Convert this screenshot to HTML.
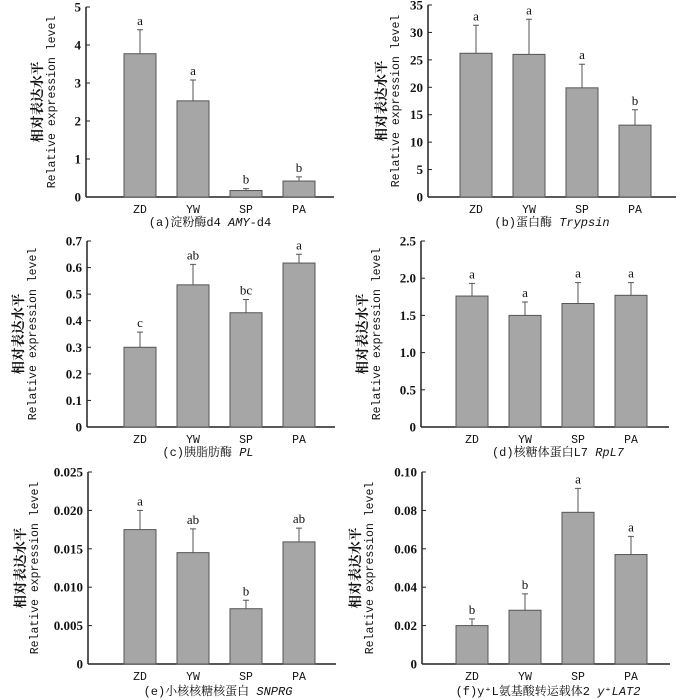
<!DOCTYPE html>
<html><head><meta charset="utf-8"><style>
body{margin:0;background:#fff}
svg{display:block}
text{fill:#111}
.tick{font-family:"Liberation Serif",serif;font-size:13px;font-weight:bold}
.cat{font-family:"Liberation Mono",monospace;font-size:11.5px}
.sig{font-family:"Liberation Serif",serif;font-size:13px}
.cap{font-family:"Liberation Mono","Noto Serif CJK SC",monospace;font-size:12px}
.yt{font-family:"Liberation Mono","Noto Serif CJK SC",monospace;font-size:11.5px}
.ytc{font-family:"Noto Serif CJK SC",serif;font-size:13.5px;font-weight:bold}
</style></head><body>
<svg id="chart" width="700" height="700" viewBox="0 0 700 700"></svg>
<script>
const categories=["ZD","YW","SP","PA"];
const valsA=[3.77,2.53,0.17,0.42]; const errA=[4.4,3.08,0.22,0.53]; const sigA=["a","a","b","b"];
const ticksA=["0","1","2","3","4","5"];
const valsB=[26.2,26.0,19.9,13.1]; const errB=[31.3,32.4,24.2,15.9]; const sigB=["a","a","a","b"];
const ticksB=["0","5","10","15","20","25","30","35"];
const valsC=[0.30,0.535,0.43,0.617]; const errC=[0.357,0.612,0.48,0.65]; const sigC=["c","ab","bc","a"];
const ticksC=["0","0.1","0.2","0.3","0.4","0.5","0.6","0.7"];
const valsD=[1.76,1.50,1.66,1.77]; const errD=[1.93,1.68,1.94,1.94]; const sigD=["a","a","a","a"];
const ticksD=["0","0.5","1.0","1.5","2.0","2.5"];
const valsE=[0.0175,0.0145,0.0072,0.0159]; const errE=[0.0200,0.0176,0.0083,0.0177]; const sigE=["a","ab","b","ab"];
const ticksE=["0","0.005","0.010","0.015","0.020","0.025"];
const valsF=[0.020,0.028,0.079,0.057]; const errF=[0.0235,0.0365,0.0915,0.0665]; const sigF=["b","b","a","a"];
const ticksF=["0","0.02","0.04","0.06","0.08","0.10"];

const NS="http://www.w3.org/2000/svg";
const svg=document.getElementById('chart');
function mk(tag,attrs,parent,txt){const e=document.createElementNS(NS,tag);for(const k in attrs)e.setAttribute(k,attrs[k]);if(txt!==undefined)e.textContent=txt;parent.appendChild(e);return e;}

const panels=[
 {id:"a",ax:86,top:7,bot:197,c0:140,vals:valsA,err:errA,sig:sigA,ticks:ticksA,max:5,yt:42,cap:["(a)淀粉酶d4 ","AMY","-d4"],capY:226,capX:210},
 {id:"b",ax:428,top:5,bot:197,c0:476,vals:valsB,err:errB,sig:sigB,ticks:ticksB,max:35,yt:386,cap:["(b)蛋白酶 ","Trypsin",""],capY:226,capX:552},
 {id:"c",ax:87,top:241,bot:427,c0:140,vals:valsC,err:errC,sig:sigC,ticks:ticksC,max:0.7,yt:23,cap:["(c)胰脂肪酶 ","PL",""],capY:456,capX:208},
 {id:"d",ax:421,top:241,bot:427,c0:472,vals:valsD,err:errD,sig:sigD,ticks:ticksD,max:2.5,yt:367,cap:["(d)核糖体蛋白L7 ","RpL7",""],capY:456,capX:558},
 {id:"e",ax:88,top:472,bot:664,c0:140,vals:valsE,err:errE,sig:sigE,ticks:ticksE,max:0.025,yt:25,cap:["(e)小核核糖核蛋白 ","SNPRG",""],capY:695,capX:218},
 {id:"f",ax:422,top:472,bot:664,c0:472,vals:valsF,err:errF,sig:sigF,ticks:ticksF,max:0.10,yt:360,cap:["(f)y⁺L氨基酸转运载体2 ","y⁺LAT2",""],capY:695,capX:548}
];
const step=53, bw=32;
panels.forEach(p=>{
  const g=mk('g',{},svg);
  
  
  const y=v=>p.bot-(v/p.max)*(p.bot-p.top);
  const ya=mk('line',{x1:p.ax,y1:p.top,x2:p.ax,y2:p.bot,stroke:'#222','stroke-width':1.5},g);
  
  
  const xa=mk('line',{x1:p.ax,y1:p.bot,x2:p.ax+248,y2:p.bot,stroke:'#222','stroke-width':1.5},g);
  
  
  const n=p.ticks.length;
  p.ticks.forEach((t,i)=>{
    const v=p.max*i/(n-1), yy=y(v);
    mk('line',{x1:p.ax,y1:yy,x2:p.ax+4,y2:yy,stroke:'#222','stroke-width':1},g);
    const tx=mk('text',{x:p.ax-5,y:yy+4.5,'text-anchor':'end',class:'tick'},g,t);
    
    
  });
  p.vals.forEach((v,i)=>{
    const cx=p.c0+i*step;
    const r=mk('rect',{x:cx-bw/2,y:y(v),width:bw,height:p.bot-y(v),fill:'#a6a6a6',stroke:'#555','stroke-width':1},g);
    
    
    const e=mk('path',{d:`M${cx},${y(v)}V${y(p.err[i])}M${cx-3},${y(p.err[i])}H${cx+3}`,stroke:'#555','stroke-width':1,fill:'none'},g);
    
    
    const s=mk('text',{x:cx,y:y(p.err[i])-5,'text-anchor':'middle',class:'sig'},g,p.sig[i]);
    
    
    const c=mk('text',{x:cx,y:p.bot+16,'text-anchor':'middle',class:'cat'},g,categories[i]);
    
    
  });
  const cy=(p.top+p.bot)/2;
  const t1=mk('text',{x:p.yt,y:cy,'text-anchor':'middle',class:'ytc',transform:`rotate(-90 ${p.yt} ${cy})`},g,'相对表达水平');
  
  
  const t2=mk('text',{x:p.yt+13,y:cy,'text-anchor':'middle',class:'yt',transform:`rotate(-90 ${p.yt+13} ${cy})`},g,'Relative expression level');
  
  
  const cap=mk('text',{x:p.capX,y:p.capY,'text-anchor':'middle',class:'cap'},g);
  
  
  mk('tspan',{},cap,p.cap[0]);
  mk('tspan',{'font-style':'italic'},cap,p.cap[1]);
  mk('tspan',{},cap,p.cap[2]);
});
</script>
</body></html>
